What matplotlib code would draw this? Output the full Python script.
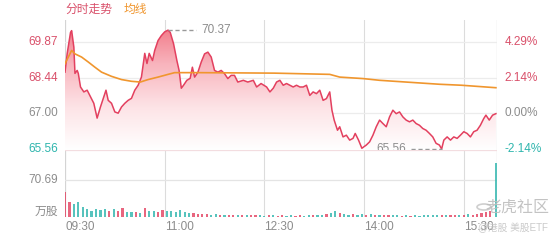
import numpy as np
import matplotlib.pyplot as plt
from matplotlib.colors import LinearSegmentedColormap
from matplotlib.patches import Circle

plt.rcParams['font.family'] = ['Liberation Sans', 'Noto Sans CJK SC', 'DejaVu Sans']

# minutes after 09:30 and price
price_min = [0, 2, 5, 6, 8, 9, 11, 12, 14, 17, 20, 23, 26, 29, 32, 35, 37, 39, 42, 45,
             48, 51, 54, 57, 60, 63, 66, 69, 72, 74, 76, 79, 81, 84, 87, 90, 93, 95, 98, 101,
             103, 105, 107, 110, 113, 115, 117, 120, 123, 126, 129, 132, 135, 138, 141, 144, 147, 150, 153, 156,
             161, 165, 170, 173, 177, 182, 185, 188, 191, 194, 197, 200, 203, 206, 209, 212, 215, 218, 221, 224,
             227, 230, 233, 236, 239, 241, 243, 246, 248, 251, 254, 257, 260, 262, 265, 268, 272, 275, 278, 281,
             284, 287, 290, 293, 296, 299, 302, 305, 308, 311, 314, 317, 320, 323, 326, 329, 332, 335, 338, 340,
             342, 345, 348, 351, 354, 357, 360, 363, 366, 369, 372, 375, 378, 380, 383, 386, 389]
price = [68.67, 69.43, 70.28, 70.35, 69.68, 68.62, 68.74, 68.62, 68.07, 67.87, 67.94, 67.67, 67.41, 66.81, 67.26, 67.67, 67.94, 67.53, 67.41, 67.06,
         67.01, 67.26, 67.41, 67.53, 67.61, 67.94, 68.14, 68.47, 69.43, 69.02, 69.43, 69.14, 69.55, 69.95, 70.15, 70.30, 70.37, 70.28, 69.82, 69.14,
         68.74, 68.02, 68.14, 68.34, 68.42, 68.87, 68.47, 68.67, 69.08, 69.41, 69.48, 69.28, 68.74, 68.67, 68.74, 68.61, 68.41, 68.54, 68.54, 68.27,
         68.34, 68.27, 68.34, 68.07, 68.21, 68.07, 67.87, 68.02, 68.27, 68.34, 68.14, 68.21, 68.14, 68.07, 68.14, 68.07, 68.07, 68.14, 67.73, 67.87,
         67.80, 67.94, 67.53, 67.60, 67.87, 67.13, 66.73, 66.32, 66.46, 66.05, 66.12, 65.92, 65.99, 66.19, 65.92, 65.59, 65.72, 65.85, 66.12, 66.46,
         66.73, 66.59, 66.46, 66.86, 67.13, 66.99, 67.06, 66.86, 66.73, 66.66, 66.73, 66.59, 66.52, 66.39, 66.32, 66.19, 66.05, 65.79, 65.72, 65.56,
         65.92, 66.05, 65.92, 66.05, 65.99, 66.12, 66.26, 66.19, 66.05, 66.26, 66.32, 66.52, 66.79, 66.93, 66.73, 66.93, 66.99]

# 均线
avg_min = [0, 6, 9, 15, 21, 27, 33, 42, 51, 60, 68, 75, 84, 93, 99, 120, 189, 239, 248, 269, 284, 338, 358, 389]
avg_price = [69.01, 69.55, 69.41, 69.28, 69.08, 68.87, 68.67, 68.50, 68.37, 68.30, 68.27, 68.37, 68.47, 68.58, 68.65,
             68.65, 68.63, 68.58, 68.47, 68.41, 68.34, 68.18, 68.14, 68.04]

# volume in 万股, one bar every 4 minutes plus the closing bar
vol_min = list(range(0, 385, 4)) + [389]
volume = [47, 28, 24, 29, 20, 15, 12, 16, 13, 15, 11, 16, 12, 17, 10, 9, 10, 8, 18, 11,
          12, 10, 13, 11, 12, 10, 13, 9, 8, 7, 6, 5, 6, 4, 5, 4, 4, 3, 4, 3,
          4, 3, 3, 3, 4, 2, 3, 3, 2, 3, 2, 3, 2, 3, 2, 3, 4, 3, 4, 5,
          8, 12, 7, 6, 4, 5, 4, 5, 4, 6, 4, 3, 3, 4, 3, 3, 2, 3, 2, 3,
          2, 3, 3, 4, 3, 4, 3, 3, 3, 4, 4, 5, 4, 6, 7, 9, 12, 104]
# u = up bar (red), d = down bar (teal)
vol_dir = ("uudddddddd" "uduuddudud" "duuddddddu" "uuudduduud"
           "uduudduduu" "dduudduddu" "ddudduddud" "uduuddudud"
           "ddddduduud" "uduuuuu" "d")

high_val, low_val = 70.37, 65.56
time_ticks = [0, 90, 180, 270, 360]
time_labels = ['09:30', '11:00', '12:30', '14:00', '15:30']
price_ticks = [69.87, 68.44, 67.00, 65.56]
pct_labels = ['4.29%', '2.14%', '0.00%', '-2.14%']
vol_tick = 70.69

RED = '#e3405f'
TEAL = '#2db5ad'
ORANGE = '#f0962e'
GREY = '#8c8c8c'

fig = plt.figure(figsize=(5.6, 2.4), dpi=100)
ax = fig.add_axes([65 / 560, 1 - 150 / 240, 432 / 560, 130 / 240])
axv = fig.add_axes([65 / 560, 1 - 217 / 240, 432 / 560, 67 / 240])

ylo, yhi = 65.52, 70.78
for a in (ax, axv):
    a.set_xlim(0, 390)
    for s in a.spines.values():
        s.set_visible(False)
    a.set_xticks([])
    a.set_yticks([])
    for t in time_ticks[1:]:
        a.axvline(t, color='#dcdcdc', lw=0.8, zorder=0)
    a.axvline(0, color='#d4d4d4', lw=0.9, zorder=0)
    a.axvline(390, color='#d4d4d4', lw=0.9, zorder=0)
ax.set_ylim(ylo, yhi)
for p in price_ticks[:3]:
    ax.axhline(p, color='#ececec', lw=0.9, zorder=0)

# gradient fill under the price line
cmap = LinearSegmentedColormap.from_list('g', ['#ffffff', '#fde3e6', '#f8b3bc', '#f1707f'])
poly = ax.fill_between(price_min, price, ylo, color='none')
grad = np.linspace(0, 1, 256).reshape(-1, 1)
im = ax.imshow(grad, extent=[0, 390, ylo, yhi], origin='lower', aspect='auto', cmap=cmap, zorder=1)
im.set_clip_path(poly.get_paths()[0], transform=ax.transData)

ax.plot(price_min, price, color=RED, lw=1.1, zorder=3)
ax.plot(avg_min, avg_price, color=ORANGE, lw=1.2, zorder=4)

# max / min markers
i_hi = price.index(max(price))
ax.plot([price_min[i_hi], price_min[i_hi] + 25], [high_val, high_val], color='#999999', lw=1, ls=(0, (3, 2)), zorder=5)
ax.text(price_min[i_hi] + 30, high_val, f'{high_val:.2f}', color=GREY, fontsize=8.5, va='center', ha='left')
i_lo = price.index(min(price))
ax.plot([price_min[i_lo] - 28, price_min[i_lo]], [low_val, low_val], color='#999999', lw=1, ls=(0, (3, 2)), zorder=5)
ax.text(price_min[i_lo] - 32, low_val, f'{low_val:.2f}', color=GREY, fontsize=8.5, va='center', ha='right')

# axis labels
left_cols = ['#d9506a', '#d9506a', GREY, TEAL]
for p, lab, c in zip(price_ticks, pct_labels, left_cols):
    ax.text(-7 * 390 / 432, p, f'{p:.2f}', color=c, fontsize=8.5, ha='right', va='center')
    ax.text(397, p, lab, color=c, fontsize=8.5, ha='left', va='center')

# volume panel
axv.set_ylim(0, 128)
axv.axhline(vol_tick, color='#e4e4e4', lw=0.9, zorder=0)
axv.axhline(128, color='#f3dde0', lw=0.9, zorder=0)
vcols = [RED if d == 'u' else TEAL for d in vol_dir]
axv.bar(vol_min, volume, width=2.0, color=vcols, alpha=0.8, linewidth=0, zorder=2)
axv.text(-7 * 390 / 432, vol_tick, f'{vol_tick:.2f}', color=GREY, fontsize=8.5, ha='right', va='center')
axv.text(-7 * 390 / 432, 10, '万股', color=GREY, fontsize=8.5, ha='right', va='center')

for t, lab in zip(time_ticks, time_labels):
    fig.text((65 + t * 432 / 390) / 560, 1 - 227 / 240, lab, color=GREY, fontsize=8.5, ha='left', va='center')

fig.text(65 / 560, 1 - 10 / 240, '分时走势', color='#d9506a', fontsize=8.5, va='center')
fig.text(124 / 560, 1 - 10 / 240, '均线', color=ORANGE, fontsize=8.5, va='center')

# watermark
fig.text(549 / 560, 1 - 207 / 240, '老虎社区', color='#bdbdbd', fontsize=11.5, ha='right', va='center', alpha=0.9)
fig.patches.append(Circle((484 / 560, 1 - 207 / 240), 7 / 560, transform=fig.transFigure,
                          fill=False, ec='#cfcfcf', lw=1.2))
fig.text(548 / 560, 1 - 228 / 240, '@港股 美股ETF', color='#c4c4c4', fontsize=7, ha='right', va='center', alpha=0.9)

fig.savefig('out.png', dpi=100)
